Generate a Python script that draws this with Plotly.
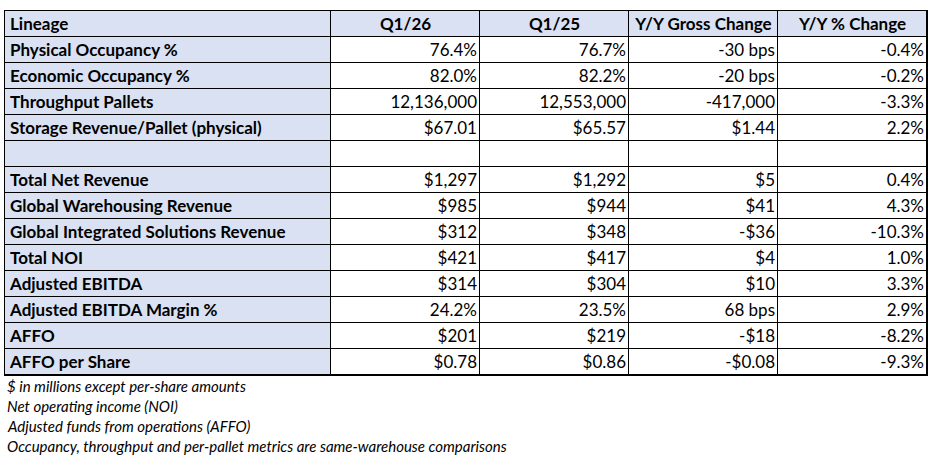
import plotly.graph_objects as go

W, H = 938, 460

header = ["Lineage", "Q1/26", "Q1/25", "Y/Y Gross Change", "Y/Y % Change"]
metrics = [
    "Physical Occupancy %", "Economic Occupancy %", "Throughput Pallets",
    "Storage Revenue/Pallet (physical)", "", "Total Net Revenue",
    "Global Warehousing Revenue", "Global Integrated Solutions Revenue",
    "Total NOI", "Adjusted EBITDA", "Adjusted EBITDA Margin %", "AFFO",
    "AFFO per Share",
]
q1_26 = ["76.4%", "82.0%", "12,136,000", "$67.01", "", "$1,297", "$985", "$312",
         "$421", "$314", "24.2%", "$201", "$0.78"]
q1_25 = ["76.7%", "82.2%", "12,553,000", "$65.57", "", "$1,292", "$944", "$348",
         "$417", "$304", "23.5%", "$219", "$0.86"]
gross_chg = ["-30 bps", "-20 bps", "-417,000", "$1.44", "", "$5", "$41", "-$36",
             "$4", "$10", "68 bps", "-$18", "-$0.08"]
pct_chg = ["-0.4%", "-0.2%", "-3.3%", "2.2%", "", "0.4%", "4.3%", "-10.3%",
           "1.0%", "3.3%", "2.9%", "-8.2%", "-9.3%"]
notes = [
    "$ in millions except per-share amounts",
    "Net operating income (NOI)",
    "Adjusted funds from operations (AFFO)",
    "Occupancy, throughput and per-pallet metrics are same-warehouse comparisons",
]

BLUE = "#D9E1F2"
FONT = "Lato"
FS = 17
col_w = [326, 149, 149, 149, 149]
edges = [0]
for w in col_w:
    edges.append(edges[-1] + w)

n_rows = len(metrics) + 1
value_cols = [q1_26, q1_25, gross_chg, pct_chg]

# fill: header row and label column blue, value cells white
z = [[1] * 5] + [[1, 0, 0, 0, 0] for _ in metrics]

fig = go.Figure()
fig.add_trace(go.Heatmap(
    z=z, x=edges, y=list(range(n_rows + 1)),
    colorscale=[[0, "white"], [1, BLUE]], zmin=0, zmax=1,
    showscale=False, xgap=1, ygap=1, hoverinfo="skip",
))

row_c = [i + 0.55 for i in range(n_rows)]
pad = 5

# header
fig.add_trace(go.Scatter(
    x=[edges[0] + pad], y=[row_c[0]], mode="text", text=[f"<b>{header[0]}</b>"],
    textposition="middle right", textfont=dict(family=FONT, size=FS, color="black"),
    hoverinfo="skip", showlegend=False,
))
fig.add_trace(go.Scatter(
    x=[(edges[j] + edges[j + 1]) / 2 for j in range(1, 5)], y=[row_c[0]] * 4,
    mode="text", text=[f"<b>{h}</b>" for h in header[1:]],
    textposition="middle center", textfont=dict(family=FONT, size=FS, color="black"),
    hoverinfo="skip", showlegend=False,
))
# label column
fig.add_trace(go.Scatter(
    x=[edges[0] + pad] * len(metrics), y=row_c[1:], mode="text",
    text=[f"<b>{m}</b>" for m in metrics], textposition="middle right",
    textfont=dict(family=FONT, size=FS, color="black"),
    hoverinfo="skip", showlegend=False,
))
# value columns, right aligned
for j, vals in enumerate(value_cols, start=1):
    fig.add_trace(go.Scatter(
        x=[edges[j + 1] - 3] * len(vals), y=row_c[1:], mode="text", text=vals,
        textposition="middle left", textfont=dict(family=FONT, size=FS, color="black"),
        hoverinfo="skip", showlegend=False,
    ))

for i, t in enumerate(notes):
    fig.add_annotation(text=f"<i>{t}</i>", x=5 / W, y=1 - (386 + i * 20) / H,
                       xref="paper", yref="paper", xanchor="left", yanchor="middle",
                       showarrow=False, font=dict(family=FONT, size=15, color="black"))

fig.update_xaxes(range=[0, edges[-1]], domain=[5 / W, 927 / W], showgrid=False,
                 zeroline=False, showticklabels=False, showline=True, mirror=True,
                 linecolor="black", linewidth=1)
fig.update_yaxes(range=[n_rows, 0], domain=[1 - 375 / H, 1 - 11 / H], showgrid=False,
                 zeroline=False, showticklabels=False, showline=True, mirror=True,
                 linecolor="black", linewidth=1)
fig.update_layout(width=W, height=H, margin=dict(l=0, r=0, t=0, b=0),
                  paper_bgcolor="white", plot_bgcolor="black")
# drop the browser's default 8px body margin so the figure sits at the page corner
fig.write_html("out.html", config={"displayModeBar": False},
               post_script="document.body.style.margin='0';")
